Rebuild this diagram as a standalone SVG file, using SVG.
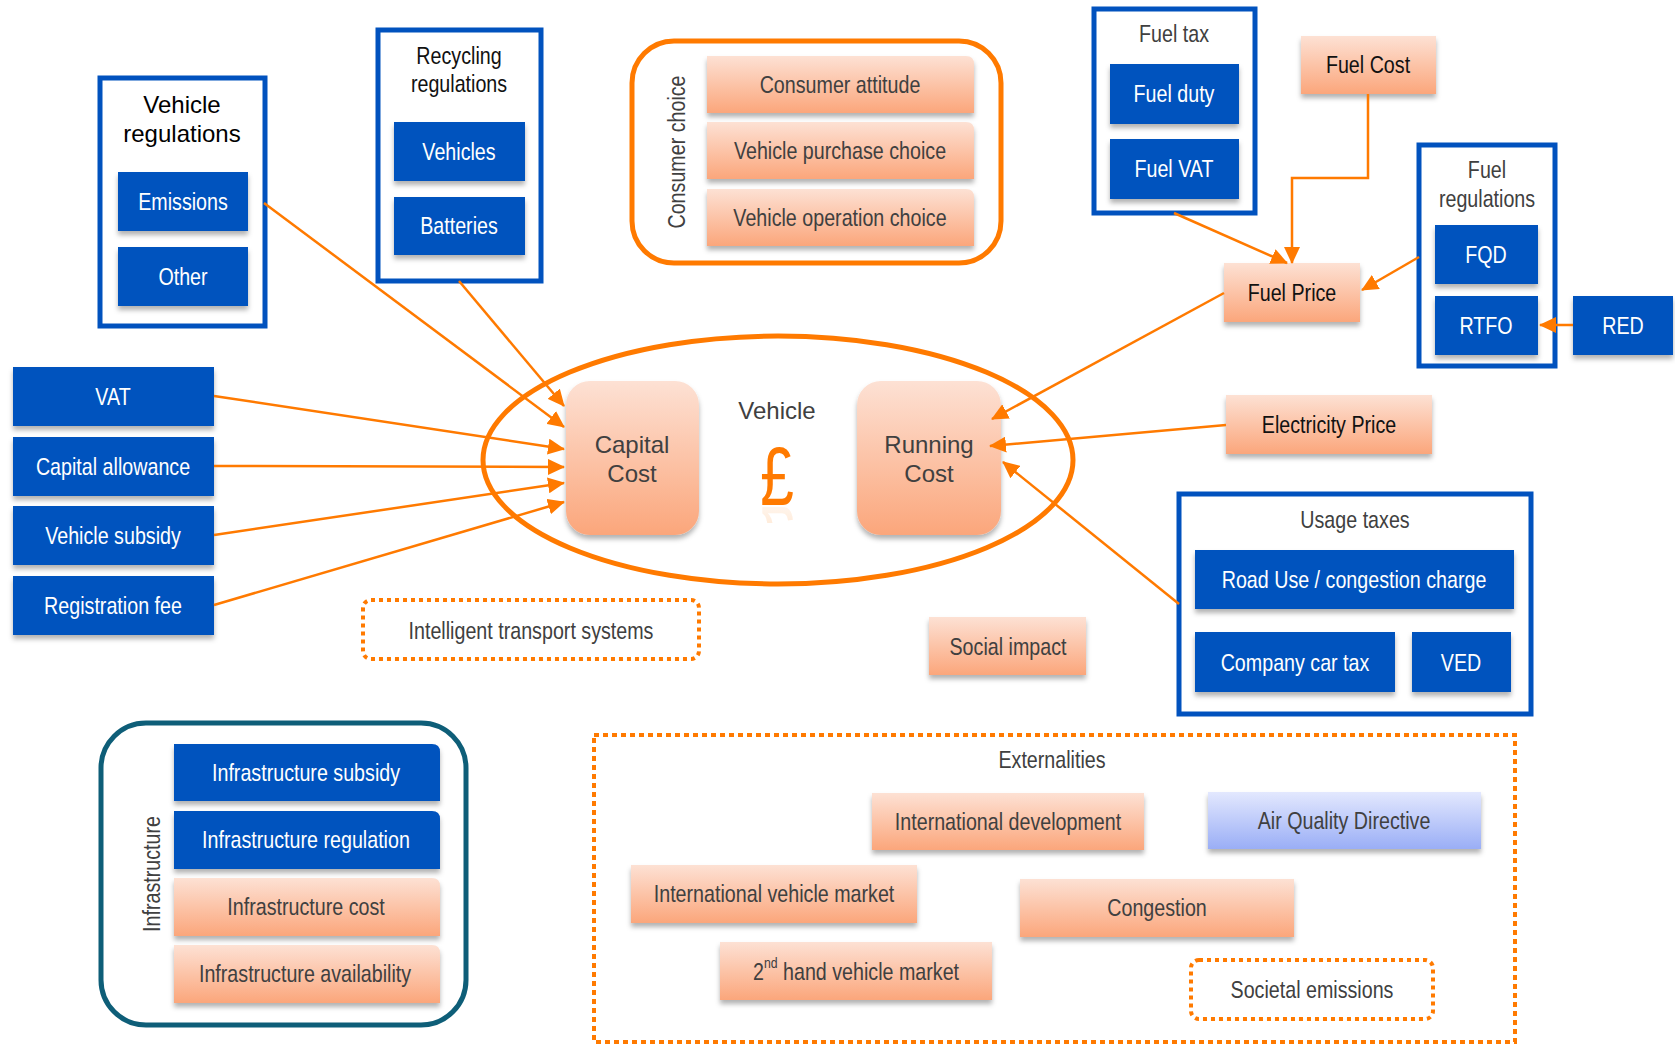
<svg xmlns="http://www.w3.org/2000/svg" width="1675" height="1046" viewBox="0 0 1675 1046">
<defs>
<linearGradient id="peach" x1="0" y1="0" x2="0" y2="1"><stop offset="0" stop-color="#FDE1D4"/><stop offset="1" stop-color="#FBA67B"/></linearGradient>
<linearGradient id="lav" x1="0" y1="0" x2="0" y2="1"><stop offset="0" stop-color="#E3E8FE"/><stop offset="1" stop-color="#9AAEF6"/></linearGradient>
<filter id="sh" x="-10%" y="-10%" width="120%" height="140%"><feDropShadow dx="0" dy="4" stdDeviation="2.5" flood-color="#000" flood-opacity="0.3"/></filter>
<marker id="ah" markerUnits="userSpaceOnUse" markerWidth="18" markerHeight="16" refX="16" refY="8" orient="auto"><path d="M0,0 L17,8 L0,16 z" fill="#FF7A00"/></marker>
<linearGradient id="fade" x1="0" y1="0" x2="0" y2="1"><stop offset="0" stop-color="#FF7A00" stop-opacity="0.55"/><stop offset="1" stop-color="#FF7A00" stop-opacity="0"/></linearGradient>
<clipPath id="refl"><rect x="740" y="507" width="80" height="16"/></clipPath>
<style>
.blue{fill:#0152BE;filter:url(#sh)}
.peach{fill:url(#peach);filter:url(#sh)}
.grp{fill:#fff;stroke:#0152BE;stroke-width:5}
.wt{font-family:"Liberation Sans",Arial,sans-serif;font-size:24px;fill:#fff;text-anchor:middle;dominant-baseline:central}
.dt{font-family:"Liberation Sans",Arial,sans-serif;font-size:24px;fill:#111;text-anchor:middle;dominant-baseline:central}
.gt{font-family:"Liberation Sans",Arial,sans-serif;font-size:24px;fill:#404040;text-anchor:middle;dominant-baseline:central}
.rt{font-family:"Liberation Sans",Arial,sans-serif;font-size:24px;fill:#404040;text-anchor:middle;dominant-baseline:central}
.dot{fill:#fff;stroke:#FF7A00;stroke-width:4;stroke-dasharray:4 4}
.con{stroke:#FF7A00;stroke-width:2.5;fill:none;marker-end:url(#ah)}
</style>
</defs>
<rect width="1675" height="1046" fill="#fff"/>

<g id="vehicle-regulations">
<rect class="grp" x="100" y="78" width="165" height="248"/>
<text class="rt" x="182" y="104" style="fill:#000">Vehicle</text>
<text class="rt" x="182" y="133" style="fill:#000">regulations</text>
<rect class="blue" x="118" y="172" width="130" height="59"/><text class="wt" transform="translate(183,202) scale(0.82,1)">Emissions</text>
<rect class="blue" x="118" y="247" width="130" height="59"/><text class="wt" transform="translate(183,277) scale(0.82,1)">Other</text>
</g>

<g id="recycling-regulations">
<rect class="grp" x="378" y="30" width="163" height="251"/>
<text class="dt" transform="translate(459,56) scale(0.82,1)">Recycling</text>
<text class="dt" transform="translate(459,84) scale(0.82,1)">regulations</text>
<rect class="blue" x="394" y="122" width="131" height="59"/><text class="wt" transform="translate(459,152) scale(0.82,1)">Vehicles</text>
<rect class="blue" x="394" y="197" width="131" height="58"/><text class="wt" transform="translate(459,226) scale(0.82,1)">Batteries</text>
</g>

<g id="consumer-choice">
<rect x="632" y="41" width="369" height="222" rx="42" fill="#fff" stroke="#FF7A00" stroke-width="5"/>
<text class="gt" transform="translate(677,152) rotate(-90) scale(0.82,1)">Consumer choice</text>
<path class="peach" d="M707,56 H966 Q974,56 974,64 V113 H707 Z"/><text class="gt" transform="translate(840,85) scale(0.82,1)">Consumer attitude</text>
<path class="peach" d="M707,122 H966 Q974,122 974,130 V179 H707 Z"/><text class="gt" transform="translate(840,151) scale(0.82,1)">Vehicle purchase choice</text>
<path class="peach" d="M707,189 H966 Q974,189 974,197 V246 H707 Z"/><text class="gt" transform="translate(840,218) scale(0.82,1)">Vehicle operation choice</text>
</g>

<g id="fuel-tax">
<rect class="grp" x="1094" y="9" width="161" height="204"/>
<text class="gt" transform="translate(1174,34) scale(0.82,1)">Fuel tax</text>
<rect class="blue" x="1110" y="64" width="129" height="60"/><text class="wt" transform="translate(1174,94) scale(0.82,1)">Fuel duty</text>
<rect class="blue" x="1110" y="139" width="129" height="60"/><text class="wt" transform="translate(1174,169) scale(0.82,1)">Fuel VAT</text>
</g>

<g id="fuel-cost">
<rect class="peach" x="1301" y="36" width="135" height="58"/><text class="dt" transform="translate(1368,65) scale(0.82,1)">Fuel Cost</text>
</g>

<g id="fuel-regulations">
<rect class="grp" x="1419" y="145" width="136" height="221"/>
<text class="gt" transform="translate(1487,170) scale(0.82,1)">Fuel</text>
<text class="gt" transform="translate(1487,199) scale(0.82,1)">regulations</text>
<rect class="blue" x="1435" y="225" width="103" height="59"/><text class="wt" transform="translate(1486,255) scale(0.82,1)">FQD</text>
<rect class="blue" x="1435" y="296" width="103" height="59"/><text class="wt" transform="translate(1486,326) scale(0.82,1)">RTFO</text>
</g>

<g id="red">
<rect class="blue" x="1573" y="296" width="100" height="59"/><text class="wt" transform="translate(1623,326) scale(0.82,1)">RED</text>
</g>

<g id="fuel-price">
<rect class="peach" x="1224" y="263" width="136" height="59"/><text class="dt" transform="translate(1292,293) scale(0.82,1)">Fuel Price</text>
</g>

<g id="vehicle">
<ellipse cx="778" cy="460" rx="295" ry="124" fill="none" stroke="#FF7A00" stroke-width="5"/>
<text class="rt" x="777" y="410">Vehicle</text>
<text transform="translate(777,505) scale(0.72,1)" font-family="Liberation Sans,sans-serif" font-size="84" fill="#FF7A00" text-anchor="middle">£</text>
<g clip-path="url(#refl)"><text transform="translate(777,507) scale(0.72,-1)" font-family="Liberation Sans,sans-serif" font-size="84" fill="url(#fade)" text-anchor="middle" opacity="0.7">£</text></g>
</g>

<g id="capital-cost">
<rect class="peach" x="566" y="381" width="133" height="154" rx="24"/>
<text class="rt" x="632" y="444">Capital</text>
<text class="rt" x="632" y="473">Cost</text>
</g>

<g id="running-cost">
<rect class="peach" x="857" y="381" width="144" height="154" rx="24"/>
<text class="rt" x="929" y="444">Running</text>
<text class="rt" x="929" y="473">Cost</text>
</g>

<g id="vat"><rect class="blue" x="13" y="367" width="201" height="59"/><text class="wt" transform="translate(113,397) scale(0.82,1)">VAT</text></g>
<g id="capital-allowance"><rect class="blue" x="13" y="437" width="201" height="59"/><text class="wt" transform="translate(113,467) scale(0.82,1)">Capital allowance</text></g>
<g id="vehicle-subsidy"><rect class="blue" x="13" y="506" width="201" height="59"/><text class="wt" transform="translate(113,536) scale(0.82,1)">Vehicle subsidy</text></g>
<g id="registration-fee"><rect class="blue" x="13" y="576" width="201" height="59"/><text class="wt" transform="translate(113,606) scale(0.82,1)">Registration fee</text></g>

<g id="electricity-price">
<rect class="peach" x="1226" y="395" width="206" height="59"/><text class="dt" transform="translate(1329,425) scale(0.82,1)">Electricity Price</text>
</g>

<g id="usage-taxes">
<rect class="grp" x="1179" y="494" width="352" height="220"/>
<text class="gt" transform="translate(1355,520) scale(0.82,1)">Usage taxes</text>
<rect class="blue" x="1195" y="550" width="319" height="59"/><text class="wt" transform="translate(1354,580) scale(0.82,1)">Road Use / congestion charge</text>
<rect class="blue" x="1195" y="632" width="200" height="60"/><text class="wt" transform="translate(1295,663) scale(0.82,1)">Company car tax</text>
<rect class="blue" x="1412" y="632" width="99" height="60"/><text class="wt" transform="translate(1461,663) scale(0.82,1)">VED</text>
</g>

<g id="intelligent-transport-systems">
<rect class="dot" x="363" y="600" width="336" height="59" rx="8"/><text class="gt" transform="translate(531,631) scale(0.82,1)">Intelligent transport systems</text>
</g>

<g id="social-impact">
<rect class="peach" x="929" y="617" width="157" height="58"/><text class="gt" transform="translate(1008,647) scale(0.82,1)">Social impact</text>
</g>

<g id="infrastructure">
<rect x="101" y="723" width="365" height="302" rx="45" fill="#fff" stroke="#0E5E78" stroke-width="5"/>
<text class="gt" transform="translate(152,874) rotate(-90) scale(0.82,1)">Infrastructure</text>
<path class="blue" d="M174,744 H432 Q440,744 440,752 V801 H174 Z"/><text class="wt" transform="translate(306,773) scale(0.82,1)">Infrastructure subsidy</text>
<path class="blue" d="M174,811 H432 Q440,811 440,819 V869 H174 Z"/><text class="wt" transform="translate(306,840) scale(0.82,1)">Infrastructure regulation</text>
<path class="peach" d="M174,878 H432 Q440,878 440,886 V936 H174 Z"/><text class="gt" transform="translate(306,907) scale(0.82,1)">Infrastructure cost</text>
<path class="peach" d="M174,945 H432 Q440,945 440,953 V1003 H174 Z"/><text class="gt" transform="translate(305,974) scale(0.82,1)">Infrastructure availability</text>
</g>

<g id="externalities">
<rect class="dot" x="594" y="735" width="921" height="307" style="stroke-dasharray:5 4"/>
<text class="gt" transform="translate(1052,760) scale(0.82,1)">Externalities</text>
<rect class="peach" x="872" y="793" width="272" height="57"/><text class="gt" transform="translate(1008,822) scale(0.82,1)">International development</text>
<rect x="1208" y="792" width="273" height="57" fill="url(#lav)" filter="url(#sh)"/><text class="gt" transform="translate(1344,821) scale(0.82,1)">Air Quality Directive</text>
<rect class="peach" x="631" y="865" width="286" height="58"/><text class="gt" transform="translate(774,894) scale(0.82,1)">International vehicle market</text>
<rect class="peach" x="1020" y="879" width="274" height="58"/><text class="gt" transform="translate(1157,908) scale(0.82,1)">Congestion</text>
<rect class="peach" x="720" y="942" width="272" height="58"/><text class="gt" transform="translate(856,971) scale(0.82,1)"><tspan>2</tspan><tspan font-size="15" dy="-8">nd</tspan><tspan dy="8"> hand vehicle market</tspan></text>
<rect class="dot" x="1191" y="960" width="242" height="59" rx="8"/><text class="gt" transform="translate(1312,990) scale(0.82,1)">Societal emissions</text>
</g>

<g id="connectors">
<line class="con" x1="264" y1="203" x2="564" y2="427"/>
<line class="con" x1="459" y1="281" x2="564" y2="406"/>
<line class="con" x1="214" y1="396" x2="564" y2="449"/>
<line class="con" x1="214" y1="466" x2="564" y2="467"/>
<line class="con" x1="214" y1="535" x2="564" y2="483"/>
<line class="con" x1="214" y1="605" x2="564" y2="502"/>
<polyline class="con" points="1368,94 1368,178 1292,178 1292,263"/>
<line class="con" x1="1174" y1="213" x2="1287" y2="263"/>
<line class="con" x1="1419" y1="257" x2="1362" y2="290"/>
<line class="con" x1="1573" y1="325" x2="1540" y2="325"/>
<line class="con" x1="1224" y1="293" x2="992" y2="419"/>
<line class="con" x1="1226" y1="425" x2="990" y2="446"/>
<line class="con" x1="1179" y1="604" x2="1003" y2="462"/>
</g>
</svg>
